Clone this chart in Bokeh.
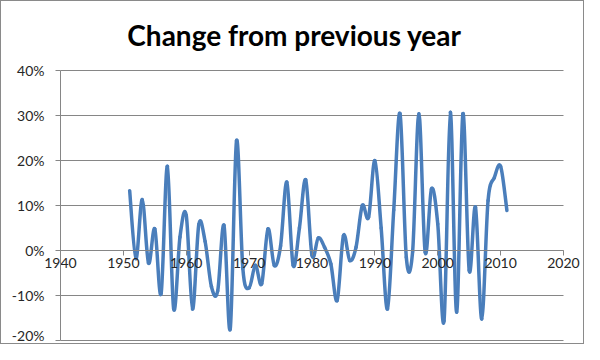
from bokeh.plotting import figure
from bokeh.models import FixedTicker, NumeralTickFormatter, ColumnDataSource, Title
from bokeh.embed import file_html
from bokeh.resources import INLINE

# ---- data ----
years = list(range(1951, 2012))
change_pct = [
    13.3, -1.8, 11.3, -2.8, 4.8, -9.6, 18.7, -13.0, 3.0, 7.8,
    -13.0, 5.8, 2.0, -8.0, -9.0, 5.6, -17.4, 24.4, -4.0, -8.3,
    -3.3, -7.4, 4.8, -3.3, 1.0, 15.2, -3.3, 5.0, 15.7, -1.1,
    2.8, 0.7, -3.0, -11.1, 3.3, -2.2, 0.7, 10.0, 7.4, 20.0,
    5.0, -13.0, 9.0, 30.4, -1.5, -0.3, 30.4, -0.4, 13.7, 5.9,
    -15.6, 30.7, -13.7, 30.4, -4.4, 9.6, -15.2, 11.1, 16.2, 18.7,
    8.9,
]
x_ticks = [1940, 1950, 1960, 1970, 1980, 1990, 2000, 2010, 2020]
y_ticks = [-0.2, -0.1, 0.0, 0.1, 0.2, 0.3, 0.4]
title_text = "Change from previous year"

vals = [v / 100.0 for v in change_pct]

# smoothed line (Excel-style Bezier through the data points)
n = len(years)
x0, y0, x1, y1, cx0, cy0, cx1, cy1 = [], [], [], [], [], [], [], []
for i in range(n - 1):
    pa = (years[max(i - 1, 0)], vals[max(i - 1, 0)])
    pb = (years[i], vals[i])
    pc = (years[i + 1], vals[i + 1])
    pd = (years[min(i + 2, n - 1)], vals[min(i + 2, n - 1)])
    x0.append(pb[0]); y0.append(pb[1])
    x1.append(pc[0]); y1.append(pc[1])
    cx0.append(pb[0] + (pc[0] - pa[0]) / 6.0)
    cy0.append(pb[1] + (pc[1] - pa[1]) / 6.0)
    cx1.append(pc[0] - (pd[0] - pb[0]) / 6.0)
    cy1.append(pc[1] - (pd[1] - pb[1]) / 6.0)
src = ColumnDataSource(dict(x0=x0, y0=y0, x1=x1, y1=y1, cx0=cx0, cy0=cy0, cx1=cx1, cy1=cy1))

# frame is wider than the plot area so that axes drawn at fixed locations are not clipped
px_per_year = 503.0 / 80.0
px_per_unit = 270.0 / 0.6
x_start = x_ticks[0] - 55.0 / px_per_year
x_end = x_ticks[-1] + 20.0 / px_per_year
y_start = y_ticks[0] - 5.0 / px_per_unit
y_end = y_ticks[-1] + 9.0 / px_per_unit

p = figure(width=584, height=344, x_range=(x_start, x_end), y_range=(y_start, y_end),
           output_backend="svg", toolbar_location=None,
           min_border_left=4, min_border_right=2, min_border_top=60, min_border_bottom=0)
p.title = Title(text=title_text, align="center", text_font="Lato", text_font_size="28px",
                text_font_style="bold", text_color="#000000", standoff=19, offset=5)
p.outline_line_color = None
p.background_fill_color = "white"
p.border_fill_color = "white"
p.styles = {"border": "1px solid #8a8a8a"}

p.bezier(x0="x0", y0="y0", x1="x1", y1="y1", cx0="cx0", cy0="cy0", cx1="cx1", cy1="cy1",
         source=src, line_color="#4A7EBB", line_width=3.5, line_cap="round")

p.xgrid.grid_line_color = None
p.ygrid.grid_line_color = "#868686"
p.ygrid.ticker = FixedTicker(ticks=y_ticks)
p.ygrid.cross_bounds = (x_ticks[0], x_ticks[-1])

p.xaxis.ticker = FixedTicker(ticks=x_ticks)
p.xaxis.fixed_location = 0
p.xaxis.bounds = (x_ticks[0], x_ticks[-1])
p.xaxis.axis_line_color = "#868686"
p.xaxis.major_tick_line_color = "#868686"
p.xaxis.major_tick_out = 5
p.xaxis.major_tick_in = 0
p.xaxis.minor_tick_line_color = None
p.xaxis.major_label_standoff = 2

p.yaxis.ticker = FixedTicker(ticks=y_ticks)
p.yaxis.fixed_location = x_ticks[0]
p.yaxis.bounds = (y_ticks[0], y_ticks[-1])
p.yaxis.formatter = NumeralTickFormatter(format="0%")
p.yaxis.axis_line_color = "#868686"
p.yaxis.major_tick_line_color = "#868686"
p.yaxis.major_tick_out = 5
p.yaxis.major_tick_in = 0
p.yaxis.minor_tick_line_color = None
p.yaxis.major_label_standoff = 11

for ax in (p.xaxis, p.yaxis):
    ax.major_label_text_font = "Lato"
    ax.major_label_text_font_size = "14px"
    ax.major_label_text_color = "#262626"

open("out.html", "w").write(file_html(p, INLINE))
